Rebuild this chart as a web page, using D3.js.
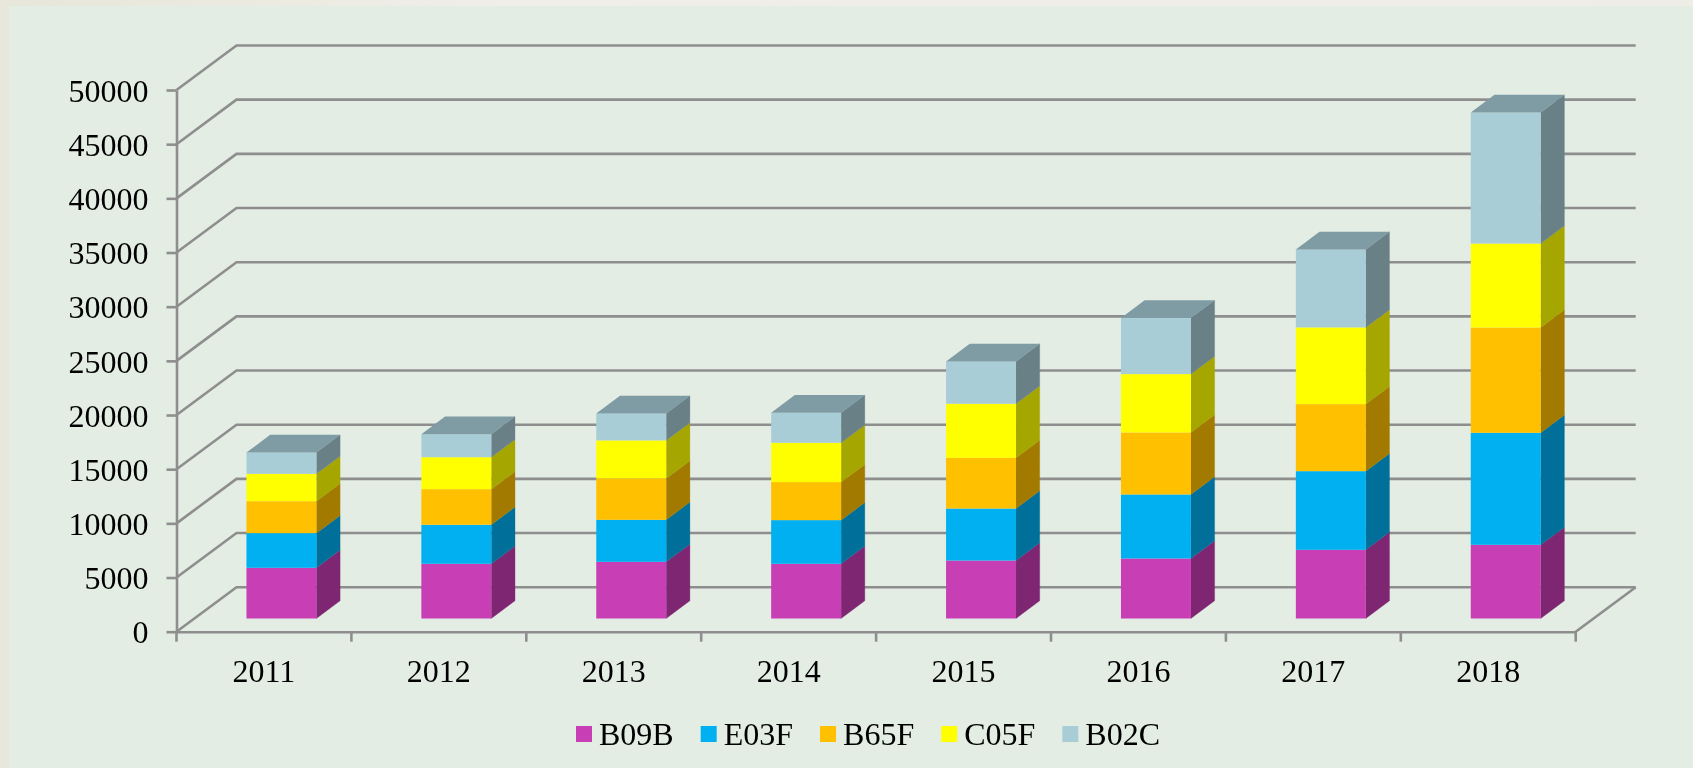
<!DOCTYPE html>
<html>
<head>
<meta charset="utf-8">
<script src="https://cdnjs.cloudflare.com/ajax/libs/d3/7.8.5/d3.min.js"></script>
<style>
html,body{margin:0;padding:0;background:#e3ede4;overflow:hidden}
svg{display:block;font-family:"Liberation Serif","Times New Roman",serif}
</style>
</head>
<body>
<svg id="chart" width="1693" height="768"></svg>
<script>
const years = ["2011","2012","2013","2014","2015","2016","2017","2018"];
const seriesNames = ["B09B","E03F","B65F","C05F","B02C"];
const B09B = [4680,5050,5230,5050,5350,5540,6340,6800];
const E03F = [3200,3600,3880,4030,4800,5910,7260,10340];
const B65F = [2950,3290,3820,3510,4680,5720,6190,9720];
const C05F = [2520,2950,3510,3630,4990,5390,7080,7750];
const B02C = [1970,2120,2490,2770,3910,5170,7200,12090];
const yTicks = [0,5000,10000,15000,20000,25000,30000,35000,40000,45000,50000];
const frontColors = ["#c83eb4","#00b0f0","#ffc000","#ffff00","#a9cdd7"];
const sideColors = ["#7f2673","#006f9a","#a37a00","#a6a600","#6a8087"];
const topColor = "#7f9ba4";

const values = {B09B,E03F,B65F,C05F,B02C};
const table = years.map((y,i)=>{
  const row={year:y};
  seriesNames.forEach(s=>row[s]=values[s][i]);
  return row;
});

const svg = d3.select("#chart");
const W=1693,H=768;
const left=176.5,right=1575.7,y0=631.7,y1=90;
const wallDx=60,wallDy=44.5;
const barDx=23.7,barDy=17.7,barLift=13.2;
const gridColor="#8e8e8e";
const serif='"Liberation Serif","Times New Roman",serif';
const fontPx=32;

const x=d3.scaleBand().domain(years).range([left,right]);
const y=d3.scaleLinear().domain([0,50000]).range([y0,y1]);

const root=svg.append("g").style("filter","blur(0.45px)");

// page frame
const defs=svg.append("defs");
const grad=defs.append("linearGradient").attr("id","topBand");
[["0%","#e6e6da"],["30%","#efefe8"],["100%","#eeeee6"]].forEach(([o,c])=>
  grad.append("stop").attr("offset",o).attr("stop-color",c));
root.append("rect").attr("x",-2).attr("y",-2).attr("width",W+4).attr("height",H+4).attr("fill","#e3ede4");
root.append("rect").attr("x",-2).attr("y",-2).attr("width",W+4).attr("height",8).attr("fill","url(#topBand)");
root.append("rect").attr("x",-2).attr("y",-2).attr("width",11).attr("height",H+4).attr("fill","#e7e7db");

// walls
const line=d3.line();
root.append("g").selectAll("path").data(yTicks).join("path")
  .attr("d",t=>line([[left,y(t)],[left+wallDx,y(t)-wallDy],[right+wallDx,y(t)-wallDy]]))
  .attr("fill","none").attr("stroke",gridColor).attr("stroke-width",2.6);
root.append("path")
  .attr("d",line([[right,y0],[right+wallDx,y0-wallDy]]))
  .attr("fill","none").attr("stroke",gridColor).attr("stroke-width",2.6);

// axes
const axisY=d3.axisLeft(y).tickValues(yTicks).tickFormat(d3.format("d")).tickSize(10).tickSizeOuter(0).tickPadding(18);
const gy=root.append("g").attr("transform",`translate(${left},0)`).call(axisY);
const axisX=d3.axisBottom(x).tickSize(0).tickPadding(28);
const gx=root.append("g").attr("transform",`translate(0,${y0})`).call(axisX);
const boundaries=years.map(d=>x(d)).concat([right]);
gx.selectAll("line.bound").data(boundaries).join("line").attr("class","bound")
  .attr("x1",d=>d).attr("x2",d=>d).attr("y1",0).attr("y2",10);
[gy,gx].forEach(g=>{
  g.attr("font-family",serif).attr("font-size",fontPx);
  g.selectAll("path.domain").attr("stroke",gridColor).attr("stroke-width",2.6);
  g.selectAll("line").attr("stroke",gridColor).attr("stroke-width",2.6);
  g.selectAll("text").attr("fill","#000");
});
gy.selectAll(".tick text").attr("dy","0.35em");
gx.selectAll(".tick text").attr("dy","0.71em");

// bars
const stacked=d3.stack().keys(seriesNames)(table);
const bw=x.step()*0.4, bo=x.step()*0.4;
const barX=d=>x(d.data.year)+bo;
const py=v=>y(v)-barLift;
const poly=pts=>line(pts)+"Z";
const barG=root.append("g");
stacked.forEach((layer,si)=>{
  const g=barG.append("g").attr("class","series-"+seriesNames[si]);
  g.selectAll("path.side").data(layer).join("path").attr("class","side")
    .attr("fill",sideColors[si]).attr("stroke",sideColors[si]).attr("stroke-width",0.3)
    .attr("d",d=>{const r=barX(d)+bw;return poly([[r,py(d[0])],[r+barDx,py(d[0])-barDy],[r+barDx,py(d[1])-barDy],[r,py(d[1])]]);});
  g.selectAll("rect").data(layer).join("rect")
    .attr("x",barX).attr("width",bw)
    .attr("y",d=>py(d[1])).attr("height",d=>py(d[0])-py(d[1]))
    .attr("fill",frontColors[si]);
  if(si===seriesNames.length-1){
    g.selectAll("path.top").data(layer).join("path").attr("class","top")
      .attr("fill",topColor)
      .attr("d",d=>{const l=barX(d),t=py(d[1]);return poly([[l,t],[l+barDx,t-barDy],[l+bw+barDx,t-barDy],[l+bw,t]]);});
  }
});

// legend
const leg=root.append("g").style("font-size",fontPx+"px").attr("fill","#000");
let cx=576;
seriesNames.forEach((s,i)=>{
  leg.append("rect").attr("x",cx).attr("y",726).attr("width",16).attr("height",16).attr("fill",frontColors[i]);
  const t=leg.append("text").attr("x",cx+23).attr("y",745).text(s);
  cx+=23+t.node().getComputedTextLength()+27;
});
</script>
</body>
</html>
